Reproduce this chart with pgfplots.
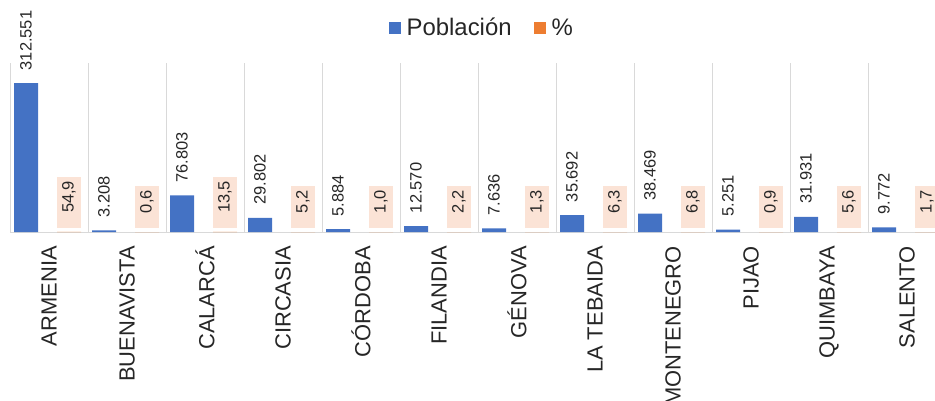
\documentclass[border=0pt]{standalone}
\usepackage{pgfplots}
\pgfplotsset{compat=1.18}
\usepackage{fontspec}
\setmainfont{Liberation Sans}
\definecolor{popblue}{HTML}{4472C4}
\definecolor{pctorange}{HTML}{ED7D31}
\definecolor{peach}{HTML}{FBE3D6}
\definecolor{gridgray}{HTML}{D9D9D9}
\definecolor{txt}{HTML}{262626}
\begin{document}
\begin{tikzpicture}
\path[use as bounding box] (0,0) rectangle (935bp,-401bp);
\clip (0,0) rectangle (935bp,-401bp);
\begin{axis}[
  at={(10bp,-232bp)}, anchor=south west,
  scale only axis, width=936bp, height=169bp,
  xmin=-0.5, xmax=11.5, ymin=0, ymax=355000,
  clip=false,
  ybar, bar width=24bp,
  axis y line=none,
  axis x line=bottom,
  x axis line style={-, draw=gridgray, line width=1bp},
  xtick={0,...,11},
  xticklabels={ARMENIA,BUENAVISTA,CALARCÁ,CIRCASIA,CÓRDOBA,FILANDIA,GÉNOVA,LA TEBAIDA,MONTENEGRO,PIJAO,QUIMBAYA,SALENTO},
  major tick length=0pt,
  minor xtick={-0.5,0.5,...,11.5},
  minor tick length=0pt,
  xminorgrids=true,
  minor x grid style={draw=gridgray, line width=1bp},
  xticklabel style={rotate=90, anchor=east, inner sep=0pt, font=\fontsize{22}{24}\selectfont, text=txt},
  xticklabel shift=14bp,
  legend columns=2,
  legend style={at={(0.504,1.21)}, anchor=center, draw=none, fill=none,
    font=\fontsize{24}{27}\selectfont, text=txt,
    /tikz/every odd column/.append style={column sep=4bp},
    /tikz/every even column/.append style={column sep=20bp}},
]
\addplot[fill=popblue, draw=none, /pgf/bar shift=-23bp,
  nodes near coords={\pgfmathprintnumber[fixed,precision=0,1000 sep={.},assume math mode=true]{\pgfplotspointmeta}},
  every node near coord/.append style={rotate=90, anchor=west, inner xsep=0pt, outer xsep=13bp,
    font=\fontsize{16.5}{18}\selectfont, text=txt},
  legend image code/.code={\fill[popblue] (0bp,-6bp) rectangle (12bp,6bp);}]
coordinates {(0,312551) (1,3208) (2,76803) (3,29802) (4,5884) (5,12570) (6,7636) (7,35692) (8,38469) (9,5251) (10,31931) (11,9772)};
\addlegendentry{Población}
\addplot[fill=pctorange, draw=none, /pgf/bar shift=20bp,
  nodes near coords={\hspace*{11bp}\pgfmathprintnumber[fixed,fixed zerofill,precision=1,use comma,assume math mode=true]{\pgfplotspointmeta}},
  every node near coord/.append style={rotate=90, anchor=west, inner xsep=4bp, inner ysep=5.5bp, outer xsep=4bp,
    fill=peach, font=\fontsize{16.5}{18}\selectfont, text=txt},
  legend image code/.code={\fill[pctorange] (0bp,-6bp) rectangle (12bp,6bp);}]
coordinates {(0,54.9) (1,0.6) (2,13.5) (3,5.2) (4,1.0) (5,2.2) (6,1.3) (7,6.3) (8,6.8) (9,0.9) (10,5.6) (11,1.7)};
\addlegendentry{\%}
\end{axis}
\end{tikzpicture}
\end{document}
